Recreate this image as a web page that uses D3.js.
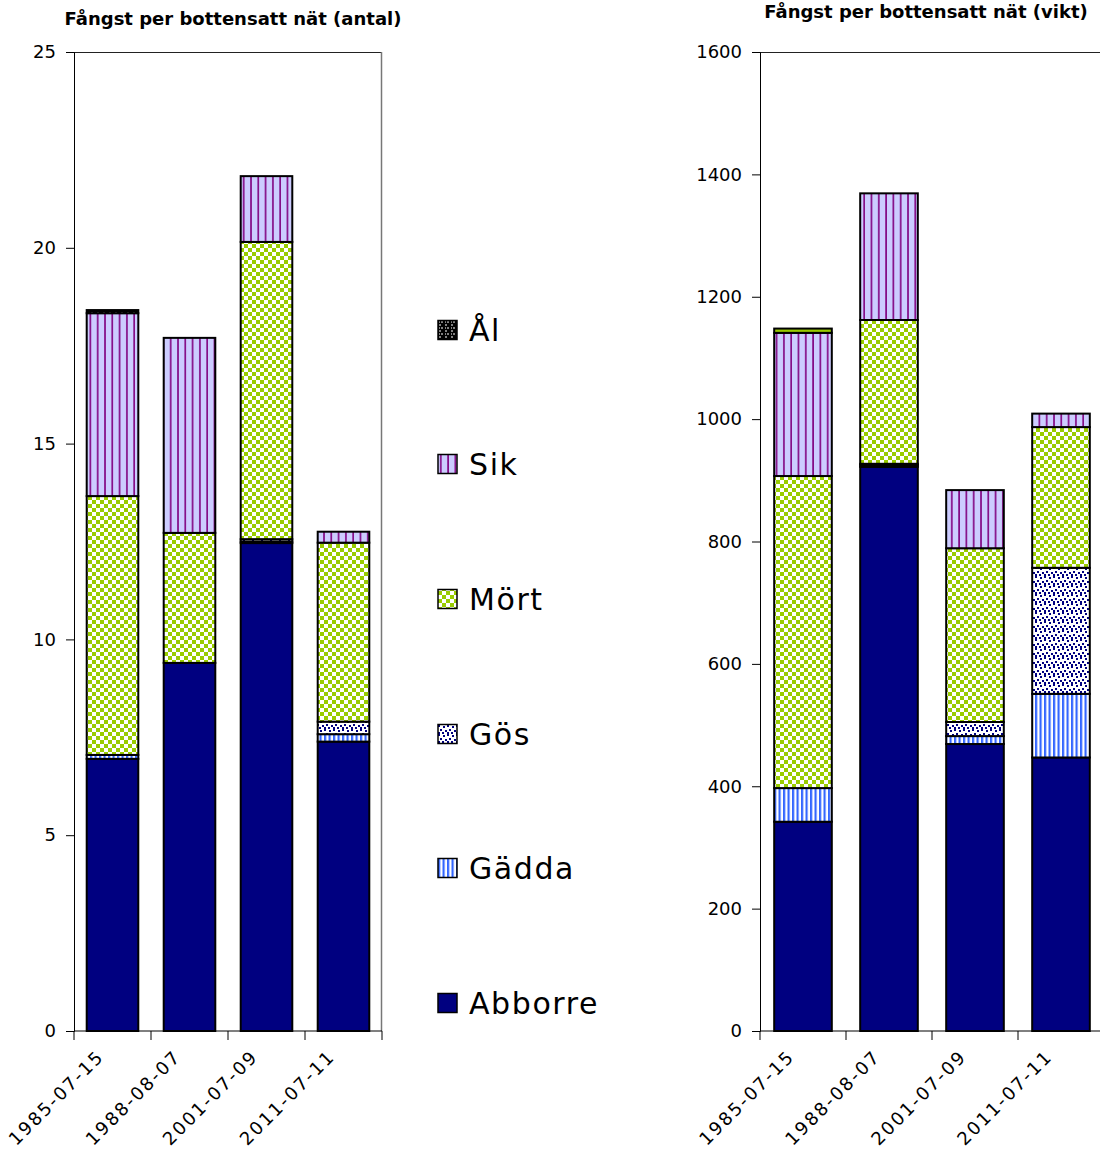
<!DOCTYPE html>
<html>
<head>
<meta charset="utf-8">
<script src="https://cdn.jsdelivr.net/npm/d3@7"></script>
<style>
  html, body { margin: 0; padding: 0; background: #fff; }
  svg { display: block; }
  text { font-family: "DejaVu Sans", sans-serif; fill: #000; }
</style>
</head>
<body>
<svg id="chart" width="1100" height="1160"></svg>
<script>
// Fishing dates (x categories)
const categories = ["1985-07-15", "1988-08-07", "2001-07-09", "2011-07-11"];
// Species, stacked bottom to top
const species = ["Abborre", "Gädda", "Gös", "Mört", "Sik", "Ål"];

// Catch per bottom-set net, count
const antalAbborre = [6.95, 9.40, 12.46, 7.39];
const antalGadda   = [0.10, 0.00, 0.04, 0.19];
const antalGos     = [0.00, 0.00, 0.06, 0.32];
const antalMort    = [6.61, 3.32, 7.59, 4.57];
const antalSik     = [4.67, 4.98, 1.68, 0.28];
const antalAl      = [0.08, 0.00, 0.00, 0.00];

// Catch per bottom-set net, weight (g)
const viktAbborre = [342, 922, 469, 447];
const viktGadda   = [55, 3, 13, 104];
const viktGos     = [0, 2, 23, 206];
const viktMort    = [510, 235, 284, 230];
const viktSik     = [234, 207, 95, 22];
const viktAl      = [7, 0, 0, 0];

const antalTicks = [0, 5, 10, 15, 20, 25];
const viktTicks = [0, 200, 400, 600, 800, 1000, 1200, 1400, 1600];

function buildRows(series) {
  return categories.map((c, i) => {
    const row = { date: c };
    species.forEach((s, k) => { row[s] = series[k][i]; });
    return row;
  });
}
const antalRows = buildRows([antalAbborre, antalGadda, antalGos, antalMort, antalSik, antalAl]);
const viktRows = buildRows([viktAbborre, viktGadda, viktGos, viktMort, viktSik, viktAl]);

const svg = d3.select("#chart");
const defs = svg.append("defs");

// Hatch / fill patterns per species
function pattern(id, w, h, draw) {
  const p = defs.append("pattern").attr("id", id)
    .attr("patternUnits", "userSpaceOnUse").attr("width", w).attr("height", h);
  draw(p);
}
pattern("p-gadda", 4.5, 4.5, p => {
  p.append("rect").attr("width", 4.5).attr("height", 4.5).attr("fill", "#fff");
  p.append("rect").attr("width", 2.2).attr("height", 4.5).attr("fill", "#3366ff");
});
pattern("p-gos", 9, 9, p => {
  p.append("rect").attr("width", 9).attr("height", 9).attr("fill", "#fff");
  [[0, 0], [5, 1], [2, 4], [7, 5], [4, 7], [0, 7]].forEach(([x, y]) =>
    p.append("rect").attr("x", x).attr("y", y).attr("width", 2).attr("height", 2).attr("fill", "#000080"));
});
pattern("p-mort", 8, 8, p => {
  p.append("rect").attr("width", 8).attr("height", 8).attr("fill", "#fff");
  p.append("rect").attr("width", 4).attr("height", 4).attr("fill", "#99cc00");
  p.append("rect").attr("x", 4).attr("y", 4).attr("width", 4).attr("height", 4).attr("fill", "#99cc00");
});
pattern("p-sik", 7.3, 7.3, p => {
  p.append("rect").attr("width", 7.3).attr("height", 7.3).attr("fill", "#ccccff");
  p.append("rect").attr("x", 2).attr("width", 1.6).attr("height", 7.3).attr("fill", "#800080");
});
pattern("p-al", 6, 6, p => {
  p.append("rect").attr("width", 6).attr("height", 6).attr("fill", "#000");
  p.append("path").attr("d", "M1,1 h2 M4,3 v2 M1,4 h1").attr("stroke", "#fff").attr("stroke-width", 1);
});

const fills = {
  "Abborre": "#000080",
  "Gädda": "url(#p-gadda)",
  "Gös": "url(#p-gos)",
  "Mört": "url(#p-mort)",
  "Sik": "url(#p-sik)",
  "Ål": "url(#p-al)"
};

function drawChart(opts) {
  const { rows, x0, x1, yTop, yBottom, max, ticks, title, titleX, titleY, fillOverride } = opts;
  const g = svg.append("g");
  const x = d3.scaleBand().domain(categories).range([x0, x1]).paddingInner(0.33).paddingOuter(0.165);
  const y = d3.scaleLinear().domain([0, max]).range([yBottom, yTop]);
  const stacked = d3.stack().keys(species)(rows);

  // plot frame: top and right edges
  g.append("line").attr("x1", x0).attr("x2", x1).attr("y1", yTop + 0.5).attr("y2", yTop + 0.5)
    .attr("stroke", "#222").attr("stroke-width", 1);
  g.append("line").attr("x1", x1 - 0.5).attr("x2", x1 - 0.5).attr("y1", yTop).attr("y2", yBottom)
    .attr("stroke", "#777").attr("stroke-width", 1.5);

  // stacked bars
  stacked.forEach(layer => {
    const key = layer.key;
    g.append("g").selectAll("rect")
      .data(layer.filter(d => d[1] - d[0] > 0))
      .join("rect")
      .attr("x", d => x(d.data.date))
      .attr("width", x.bandwidth())
      .attr("y", d => y(d[1]))
      .attr("height", d => y(d[0]) - y(d[1]))
      .attr("fill", (fillOverride && fillOverride[key]) || fills[key])
      .attr("stroke", "#000")
      .attr("stroke-width", 2);
  });

  // y axis
  const yAxis = g.append("g").attr("transform", `translate(${x0},0)`)
    .call(d3.axisLeft(y).tickValues(ticks).tickSize(8).tickPadding(10).tickFormat(d3.format("d")));
  yAxis.select(".domain").attr("stroke", "#000");
  yAxis.selectAll(".tick line").attr("stroke", "#000");
  yAxis.selectAll("text").attr("font-size", 18).style("font-family", "DejaVu Sans, sans-serif");

  // x axis with ticks at category boundaries
  const xAxis = g.append("g").attr("transform", `translate(0,${yBottom})`);
  xAxis.append("line").attr("x1", x0).attr("x2", x1).attr("stroke", "#000");
  const step = x.step();
  const bounds = d3.range(categories.length + 1).map(i => x0 + i * step);
  xAxis.selectAll("line.tk").data(bounds).join("line").attr("class", "tk")
    .attr("x1", d => d).attr("x2", d => d).attr("y1", 0).attr("y2", 9).attr("stroke", "#000");
  xAxis.selectAll("text").data(categories).join("text")
    .attr("transform", d => `translate(${x(d) + x.bandwidth() / 2 - 12},${22}) rotate(-45)`)
    .attr("text-anchor", "end")
    .attr("dominant-baseline", "central")
    .attr("font-size", 18)
    .attr("letter-spacing", 2.1)
    .text(d => d);

  // title
  g.append("text").attr("x", titleX).attr("y", titleY).attr("text-anchor", "middle")
    .attr("font-size", 18).attr("font-weight", "bold").text(title);
}

drawChart({
  rows: antalRows, x0: 74, x1: 382, yTop: 52, yBottom: 1031, max: 25, ticks: antalTicks,
  title: "Fångst per bottensatt nät (antal)", titleX: 233, titleY: 25
});
drawChart({
  rows: viktRows, x0: 760, x1: 1104, yTop: 52, yBottom: 1031, max: 1600, ticks: viktTicks,
  title: "Fångst per bottensatt nät (vikt)", titleX: 926, titleY: 18,
  fillOverride: { "Ål": "#99cc00" }
});

// legend (shared), top entry is the top of the stack
const legendY = { "Ål": 330, "Sik": 464, "Mört": 599, "Gös": 734, "Gädda": 868, "Abborre": 1003 };
const legend = svg.append("g").selectAll("g").data(species.slice().reverse()).join("g")
  .attr("transform", d => `translate(438,${legendY[d]})`);
legend.append("rect").attr("x", 0).attr("y", -9.5).attr("width", 19).attr("height", 19)
  .attr("fill", d => fills[d]).attr("stroke", "#000").attr("stroke-width", 1.5);
legend.append("text").attr("x", 31).attr("y", 0).attr("dominant-baseline", "central")
  .attr("font-size", 30).attr("letter-spacing", 1.6).text(d => d);
</script>
</body>
</html>
